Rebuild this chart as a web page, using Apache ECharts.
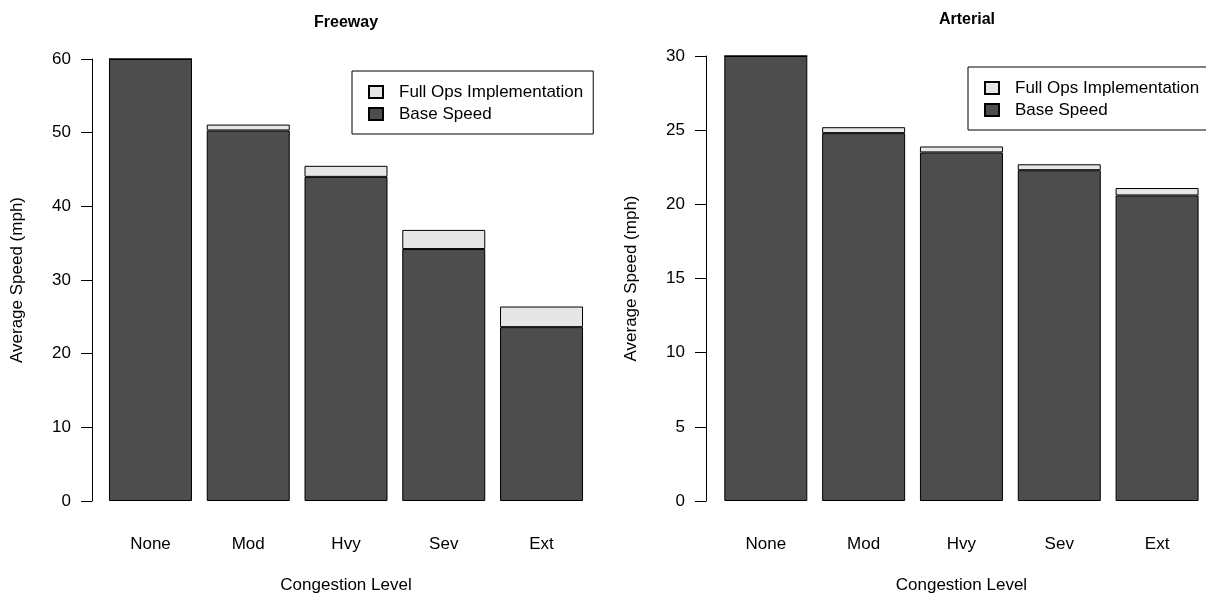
<!DOCTYPE html>
<html>
<head>
<meta charset="utf-8">
<title>Average Speed by Congestion Level</title>
<script src="https://cdn.jsdelivr.net/npm/echarts@6/dist/echarts.min.js"></script>
<style>
  html, body { margin: 0; padding: 0; background: #ffffff; }
  #chart { width: 1206px; height: 599px; }
</style>
</head>
<body>
<div id="chart"></div>
<script>
// Congestion levels shared by both panels
const congestionLevels = ['None', 'Mod', 'Hvy', 'Sev', 'Ext'];

// Freeway average speeds (mph)
const freewayBase = [60.0, 50.3, 44.0, 34.2, 23.6];
const freewayFullOps = [60.0, 51.1, 45.5, 36.8, 26.4];

// Arterial average speeds (mph)
const arterialBase = [30.0, 24.8, 23.5, 22.3, 20.6];
const arterialFullOps = [30.0, 25.2, 23.9, 22.7, 21.1];

// Y axis ranges and tick spacing
const freewayAxis = { max: 60, step: 10 };
const arterialAxis = { max: 30, step: 5 };

const FONT = '"Liberation Sans", Arial, Helvetica, sans-serif';
const FONT_SIZE = 17;
const BASE_COLOR = '#4d4d4d';
const OPS_COLOR = '#e6e6e6';

// Stacked segment above the base speed: gain from full ops
function gain(full, base) {
  return full.map((v, i) => +(v - base[i]).toFixed(2));
}

function makeXAxis(gridIndex) {
  return {
    type: 'category', gridIndex: gridIndex, data: congestionLevels,
    axisLine: { show: false }, axisTick: { show: false },
    axisLabel: { color: '#000', fontSize: FONT_SIZE, fontFamily: FONT, margin: 35 },
    name: 'Congestion Level', nameLocation: 'middle', nameGap: 76,
    nameTextStyle: { color: '#000', fontSize: FONT_SIZE, fontFamily: FONT }
  };
}

function makeYAxis(gridIndex, cfg, offset) {
  return {
    type: 'value', gridIndex: gridIndex, min: 0, max: cfg.max, interval: cfg.step,
    offset: offset,
    axisLine: { show: true, lineStyle: { color: '#000', width: 1 } },
    axisTick: { show: true, length: 11, lineStyle: { color: '#000', width: 1 } },
    splitLine: { show: false },
    axisLabel: { color: '#000', fontSize: FONT_SIZE, fontFamily: FONT, margin: 21 },
    name: 'Average Speed (mph)', nameLocation: 'middle', nameGap: 66,
    nameTextStyle: { color: '#000', fontSize: FONT_SIZE, fontFamily: FONT }
  };
}

function makeSeries(axisIndex, base, full, stackId) {
  const border = { borderColor: '#000', borderWidth: 1 };
  return [
    {
      name: 'Base Speed', type: 'bar', stack: stackId,
      xAxisIndex: axisIndex, yAxisIndex: axisIndex,
      data: base, barWidth: 83,
      itemStyle: Object.assign({ color: BASE_COLOR }, border)
    },
    {
      name: 'Full Ops Implementation', type: 'bar', stack: stackId,
      xAxisIndex: axisIndex, yAxisIndex: axisIndex,
      data: gain(full, base), barWidth: 83,
      itemStyle: Object.assign({ color: OPS_COLOR }, border)
    }
  ];
}

function makeLegend(left, top) {
  return {
    orient: 'vertical', left: left, top: top,
    data: ['Full Ops Implementation', 'Base Speed'],
    icon: 'rect', itemWidth: 14, itemHeight: 12, itemGap: 2,
    borderColor: '#000', borderWidth: 1, borderRadius: 0,
    padding: [11, 10, 10, 16],
    selectedMode: false,
    textStyle: { color: '#000', fontSize: FONT_SIZE, fontFamily: FONT, lineHeight: 20, padding: [0, 0, 0, 11] }
  };
}

const chart = echarts.init(document.getElementById('chart'), null, { renderer: 'canvas' });

chart.setOption({
  animation: false,
  backgroundColor: '#ffffff',
  title: [
    { text: 'Freeway', left: 309, top: 10,
      textStyle: { color: '#000', fontSize: 16, fontWeight: 'bold', fontFamily: FONT } },
    { text: 'Arterial', left: 934, top: 7,
      textStyle: { color: '#000', fontSize: 16, fontWeight: 'bold', fontFamily: FONT } }
  ],
  grid: [
    { left: 101.6, top: 59, width: 488.8, height: 444 },
    { left: 716.9, top: 56, width: 490.6, height: 447 }
  ],
  xAxis: [makeXAxis(0), makeXAxis(1)],
  yAxis: [makeYAxis(0, freewayAxis, 9.6), makeYAxis(1, arterialAxis, 10.9)],
  legend: [makeLegend(352, 71), makeLegend(968, 67)],
  series: [].concat(
    makeSeries(0, freewayBase, freewayFullOps, 'freeway'),
    makeSeries(1, arterialBase, arterialFullOps, 'arterial')
  )
});
</script>
</body>
</html>
